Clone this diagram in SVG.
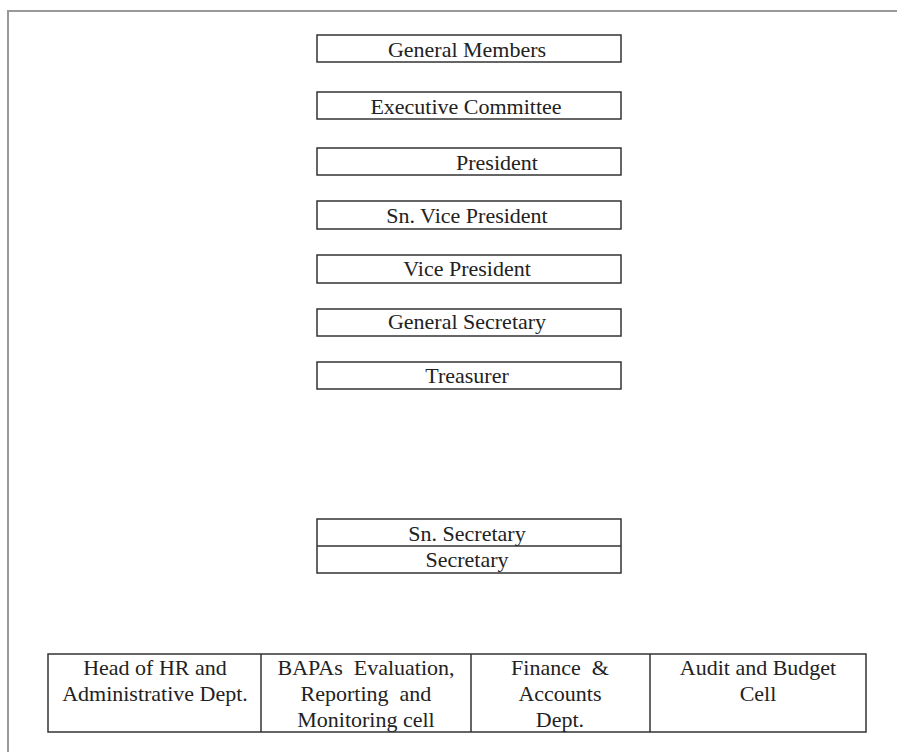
<svg xmlns="http://www.w3.org/2000/svg" width="897" height="752" viewBox="0 0 897 752">
  <style>
    .box { fill: #fff; stroke: #333; stroke-width: 1.5; }
    .rule { stroke: #333; stroke-width: 1.5; }
    .page { fill: none; stroke: #999; stroke-width: 2; }
    text { font-family: "Liberation Serif", "Times New Roman", serif; font-size: 22px; fill: #222; text-anchor: middle; }
  </style>
  <rect width="897" height="752" fill="#fff"/>
  <!-- page frame -->
  <path class="page" d="M8,760 V11 H897"/>

  <g id="general-members">
    <rect class="box" x="317" y="35" width="304" height="27"/>
    <text x="467" y="57">General Members</text>
  </g>
  <g id="executive-committee">
    <rect class="box" x="317" y="92" width="304" height="27"/>
    <text x="466" y="114">Executive Committee</text>
  </g>
  <g id="president">
    <rect class="box" x="317" y="148" width="304" height="27"/>
    <text x="497" y="170">President</text>
  </g>
  <g id="sn-vice-president">
    <rect class="box" x="317" y="201" width="304" height="28"/>
    <text x="467" y="223">Sn. Vice President</text>
  </g>
  <g id="vice-president">
    <rect class="box" x="317" y="255" width="304" height="28"/>
    <text x="467" y="276">Vice President</text>
  </g>
  <g id="general-secretary">
    <rect class="box" x="317" y="309" width="304" height="27"/>
    <text x="467" y="329">General Secretary</text>
  </g>
  <g id="treasurer">
    <rect class="box" x="317" y="362" width="304" height="27"/>
    <text x="467" y="383">Treasurer</text>
  </g>

  <g id="secretariat">
    <rect class="box" x="317" y="519" width="304" height="54"/>
    <line class="rule" x1="317" y1="546" x2="621" y2="546"/>
    <text x="467" y="541">Sn. Secretary</text>
    <text x="467" y="567">Secretary</text>
  </g>

  <g id="departments">
    <rect class="box" x="48" y="654" width="818" height="78"/>
    <line class="rule" x1="261" y1="654" x2="261" y2="732"/>
    <line class="rule" x1="471" y1="654" x2="471" y2="732"/>
    <line class="rule" x1="650" y1="654" x2="650" y2="732"/>
    <g id="hr-dept">
      <text x="155" y="675">Head of HR and</text>
      <text x="155" y="701">Administrative Dept.</text>
    </g>
    <g id="bapas-cell">
      <text x="366" y="675" xml:space="preserve">BAPAs  Evaluation,</text>
      <text x="366" y="701" xml:space="preserve">Reporting  and</text>
      <text x="366" y="727">Monitoring cell</text>
    </g>
    <g id="finance-dept">
      <text x="560" y="675" xml:space="preserve">Finance  &amp;</text>
      <text x="560" y="701">Accounts</text>
      <text x="560" y="727">Dept.</text>
    </g>
    <g id="audit-cell">
      <text x="758" y="675">Audit and Budget</text>
      <text x="758" y="701">Cell</text>
    </g>
  </g>
</svg>
